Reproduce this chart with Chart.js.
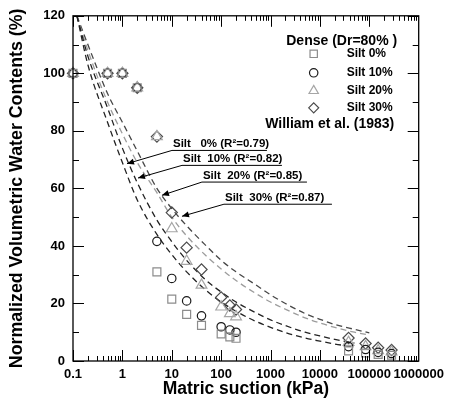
<!DOCTYPE html>
<html>
<head>
<meta charset="utf-8">
<script src="https://cdn.jsdelivr.net/npm/chart.js@4.4.1/dist/chart.umd.min.js"></script>
<style>
  html, body { margin: 0; padding: 0; background: #fff; }
  #wrap { width: 450px; height: 403px; }
</style>
</head>
<body>
<div id="wrap"><canvas id="c" width="450" height="403"></canvas></div>
<script>
// Measured matric suction (kPa)
const suction = [0.1, 0.5, 1, 2, 5, 10, 20, 40, 100, 150, 200, 38000, 84000, 151000, 282000];
// Normalized volumetric water content (%) for each silt content
const silt0  = [100, 100, 100, 95, 31,   21.5, 16.2, 12.4,  9.4,  8.4,  7.9, 3.5, 2.8, 2.3, 2.0];
const silt10 = [100, 100, 100, 95, 41.6, 28.7, 20.9, 15.7, 11.9, 10.8, 10.0, 5.0, 4.0, 3.0, 2.6];
const silt20 = [100, 100, 100, 95, 78,   46,   34.7, 26.4, 18.8, 16.5, 15.4, 6.5, 5.0, 3.6, 3.2];
const silt30 = [100, 100, 100, 95, 78,   51.6, 39.4, 31.8, 22.1, 19.3, 17.9, 8.0, 6.1, 4.6, 3.8];

// William et al. (1983) fitted curves
const fitSuction = [0.12, 0.2, 0.5, 1, 2, 5, 10, 20, 50, 100, 200, 500, 1000, 2000, 5000, 10000, 20000, 50000, 100000];
const fit0  = [120, 103, 83, 69, 56,   44, 37,   31,   24.5, 20.5, 17.3, 13.8, 11.7, 9.9,  8.0,  6.9,  5.9,  4.9, null];
const fit10 = [120, 106, 88, 74, 62,   49, 41.5, 35,   28,   24,   20.5, 16.8, 14.3, 12.3, 10.0, 8.7,  7.5,  6.2, null];
const fit20 = [120, 108, 90, 79, 69,   58.5, 50, 43.5, 36.5, 32,   28,   23.5, 20.5, 18,   15,   13.2, 11.7, 10,  9];
const fit30 = [120, 110, 93, 83, 73,   60, 53,   47,   40,   35,   31,   26.5, 23,   20,   16.5, 14.5, 12.7, 11,  9.8];

const fitLabels = ['Silt   0% (R²=0.79)', 'Silt  10% (R²=0.82)', 'Silt  20% (R²=0.85)', 'Silt  30% (R²=0.87)'];
const seriesNames = ['Silt 0%', 'Silt 10%', 'Silt 20%', 'Silt 30%'];

const xTickValues = [0.1, 1, 10, 100, 1000, 10000, 100000, 1000000];
const xTickLabels = ['0.1', '1', '10', '100', '1000', '10000', '100000', '1000000'];
const yTickValues = [0, 20, 40, 60, 80, 100, 120];
const yTickLabels = ['0', '20', '40', '60', '80', '100', '120'];

const FONT = "'Liberation Sans', Arial, Helvetica, sans-serif";

const markerStyles = [
  { shape: 'rect',     color: '#8c8c8c', radius: 5.6 },
  { shape: 'circle',   color: '#1a1a1a', radius: 4.2 },
  { shape: 'triangle', color: '#a6a6a6', radius: 6.2 },
  { shape: 'rectRot',  color: '#4a4a4a', radius: 5.6 }
];
const curveStyles = [
  { color: '#222222' },
  { color: '#222222' },
  { color: '#9c9c9c' },
  { color: '#474747' }
];

// label placement for the fitted-curve callouts (data coordinates)
const callouts = [
  { tip: [1.24, 68.6], start: [10.1, 73.2], end: [845, 73.2] },
  { tip: [2.07, 63.6], start: [16.1, 68.0], end: [1700, 68.0] },
  { tip: [6.33, 57.6], start: [40.8, 62.2], end: [5460, 62.2] },
  { tip: [16.1, 50.3], start: [114, 54.5], end: [17500, 54.5] }
];

function toPoints(xs, ys) {
  const out = [];
  xs.forEach((x, i) => { if (ys[i] != null) out.push({ x: x, y: ys[i] }); });
  return out;
}

function drawMarker(ctx, shape, x, y, r) {
  ctx.beginPath();
  if (shape === 'rect') {
    const s = Math.SQRT1_2 * r;
    ctx.rect(x - s, y - s, 2 * s, 2 * s);
  } else if (shape === 'circle') {
    ctx.arc(x, y, r, 0, Math.PI * 2);
  } else if (shape === 'triangle') {
    ctx.moveTo(x, y - r);
    ctx.lineTo(x + 0.866 * r, y + 0.5 * r);
    ctx.lineTo(x - 0.866 * r, y + 0.5 * r);
    ctx.closePath();
  } else {
    ctx.moveTo(x - r, y);
    ctx.lineTo(x, y - r);
    ctx.lineTo(x + r, y);
    ctx.lineTo(x, y + r);
    ctx.closePath();
  }
  ctx.stroke();
}

const seriesData = [silt0, silt10, silt20, silt30];
const fitData = [fit0, fit10, fit20, fit30];

const datasets = [];
fitData.forEach((ys, i) => {
  datasets.push({
    label: 'fit ' + seriesNames[i],
    data: toPoints(fitSuction, ys),
    showLine: true,
    borderColor: curveStyles[i].color,
    borderWidth: 1.3,
    borderDash: [6, 4],
    pointRadius: 0,
    cubicInterpolationMode: 'monotone',
    order: 10
  });
});
seriesData.forEach((ys, i) => {
  const m = markerStyles[i];
  datasets.push({
    label: seriesNames[i],
    data: toPoints(suction, ys),
    showLine: false,
    pointStyle: m.shape,
    pointRadius: m.radius,
    pointBorderWidth: 1.2,
    pointBorderColor: m.color,
    pointBackgroundColor: 'rgba(0,0,0,0)',
    clip: false,
    order: 1
  });
});

const overlayPlugin = {
  id: 'overlay',
  afterDraw(chart) {
    const ctx = chart.ctx;
    const a = chart.chartArea;
    const xs = chart.scales.x, ys = chart.scales.y;
    ctx.save();

    // frame
    ctx.strokeStyle = '#000';
    ctx.lineWidth = 1.3;
    ctx.strokeRect(a.left, a.top, a.right - a.left, a.bottom - a.top);

    // inward tick marks on all four sides
    ctx.lineWidth = 1;
    ctx.beginPath();
    for (let e = -1; e <= 5; e++) {
      for (let k = 1; k <= 9; k++) {
        const v = k * Math.pow(10, e);
        const px = Math.round(xs.getPixelForValue(v)) + 0.5;
        const len = k === 1 ? 11 : 5;
        ctx.moveTo(px, a.bottom); ctx.lineTo(px, a.bottom - len);
        ctx.moveTo(px, a.top); ctx.lineTo(px, a.top + len);
      }
    }
    for (let v = 0; v <= 120; v += 10) {
      const py = Math.round(ys.getPixelForValue(v)) + 0.5;
      const len = v % 20 === 0 ? 11 : 6;
      ctx.moveTo(a.left, py); ctx.lineTo(a.left + len, py);
      ctx.moveTo(a.right, py); ctx.lineTo(a.right - len, py);
    }
    ctx.stroke();

    // callouts for fitted curves
    ctx.fillStyle = '#000';
    ctx.strokeStyle = '#000';
    ctx.font = 'bold 11.5px ' + FONT;
    ctx.textBaseline = 'alphabetic';
    ctx.textAlign = 'left';
    callouts.forEach((c, i) => {
      const tx = xs.getPixelForValue(c.tip[0]), ty = ys.getPixelForValue(c.tip[1]);
      const sx = xs.getPixelForValue(c.start[0]), sy = ys.getPixelForValue(c.start[1]);
      const ex = xs.getPixelForValue(c.end[0]);
      ctx.lineWidth = 1;
      ctx.beginPath();
      ctx.moveTo(ex, sy); ctx.lineTo(sx, sy); ctx.lineTo(tx, ty);
      ctx.stroke();
      const ang = Math.atan2(ty - sy, tx - sx);
      const L = 7, W = 3;
      ctx.beginPath();
      ctx.moveTo(tx, ty);
      ctx.lineTo(tx - L * Math.cos(ang) + W * Math.sin(ang), ty - L * Math.sin(ang) - W * Math.cos(ang));
      ctx.lineTo(tx - L * Math.cos(ang) - W * Math.sin(ang), ty - L * Math.sin(ang) + W * Math.cos(ang));
      ctx.closePath();
      ctx.fill();
      ctx.fillText(fitLabels[i], sx + 1, sy - 3);
    });

    // legend
    const R = a.right, T = a.top;
    ctx.textAlign = 'center';
    ctx.textBaseline = 'middle';
    ctx.font = 'bold 14px ' + FONT;
    ctx.fillText('Dense (Dr=80% )', R - 77, T + 25);
    ctx.font = 'bold 12px ' + FONT;
    ctx.textAlign = 'left';
    const rows = [38, 57, 75, 92];
    const legendRadius = [5.2, 4.2, 5.4, 5.0];
    seriesNames.forEach((name, i) => {
      const m = markerStyles[i];
      ctx.strokeStyle = m.color;
      ctx.lineWidth = 1.2;
      drawMarker(ctx, m.shape, R - 105, T + rows[i], legendRadius[i]);
      ctx.fillStyle = '#000';
      ctx.fillText(name, R - 72, T + rows[i]);
    });
    ctx.textAlign = 'center';
    ctx.font = 'bold 14px ' + FONT;
    ctx.fillText('William et al. (1983)', R - 89, T + 108);

    ctx.restore();
  }
};

new Chart(document.getElementById('c'), {
  type: 'scatter',
  data: { datasets: datasets },
  options: {
    responsive: false,
    animation: false,
    devicePixelRatio: 1,
    layout: { padding: { top: 15, right: 30, left: 0, bottom: 0 } },
    plugins: { legend: { display: false }, tooltip: { enabled: false } },
    scales: {
      x: {
        type: 'logarithmic',
        min: 0.1,
        max: 1000000,
        afterBuildTicks(s) { s.ticks = xTickValues.map(v => ({ value: v })); },
        afterFit(s) { s.height = 42; },
        grid: { display: false, drawTicks: false },
        border: { display: false },
        ticks: {
          autoSkip: false,
          maxRotation: 0,
          padding: 6,
          color: '#000',
          font: { family: FONT, weight: 'bold', size: 13 },
          callback: (v, i) => xTickLabels[i]
        },
        title: {
          display: true,
          text: 'Matric suction (kPa)',
          color: '#000',
          font: { family: FONT, weight: 'bold', size: 17.5 },
          padding: { top: 0, bottom: 3 }
        }
      },
      y: {
        min: 0,
        max: 120,
        afterBuildTicks(s) { s.ticks = yTickValues.map(v => ({ value: v })); },
        afterFit(s) { s.width = 73; },
        grid: { display: false, drawTicks: false },
        border: { display: false },
        ticks: {
          padding: 8,
          color: '#000',
          font: { family: FONT, weight: 'bold', size: 13 },
          callback: (v, i) => yTickLabels[i]
        },
        title: {
          display: true,
          text: 'Normalized Volumetric Water Contents (%)',
          color: '#000',
          font: { family: FONT, weight: 'bold', size: 17.8 },
          padding: { top: 6, bottom: 0 }
        }
      }
    }
  },
  plugins: [overlayPlugin]
});
</script>
</body>
</html>
